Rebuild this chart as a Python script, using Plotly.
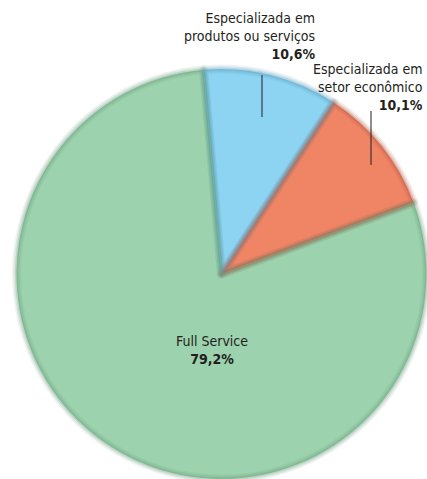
import plotly.graph_objects as go

# Share of agencies by type of specialisation (%)
categories = ["Especializada em produtos ou serviços",
              "Especializada em setor econômico",
              "Full Service"]
label_lines = [["Especializada em", "produtos ou serviços"],
               ["Especializada em", "setor econômico"],
               ["Full Service"]]
shares = [10.6, 10.1, 79.2]

slice_colors = ["#8cd4f2", "#f08566", "#9cd2ad"]
edge_rgb = [(80, 150, 180), (175, 80, 60), (95, 150, 115)]

FONT = "DejaVu Sans Condensed, Liberation Sans Narrow, Roboto, sans-serif"

W, H = 427, 479
M = dict(l=16, r=0, t=69, b=0)


def pct(v):
    return f"{v:.1f}".replace(".", ",") + "%"


def px_to_paper(x, y):
    pw = W - M["l"] - M["r"]
    ph = H - M["t"] - M["b"]
    return (x - M["l"]) / pw, 1 - (y - M["t"]) / ph


def rgba(c, a):
    return f"rgba({c[0]},{c[1]},{c[2]},{a})"


pie_common = dict(
    labels=categories,
    values=shares,
    sort=False,
    direction="clockwise",
    rotation=-5,
    textinfo="none",
    showlegend=False,
    domain=dict(x=[0, 1], y=[0, 1]),
)

fig = go.Figure()
# base slices
fig.add_trace(go.Pie(
    marker=dict(colors=slice_colors, line=dict(width=0)),
    hoverinfo="label+percent",
    **pie_common,
))
# soft bevel along slice edges: stacked translucent outlines
for width, alpha in [(9, 0.10), (6, 0.14), (3, 0.22)]:
    fig.add_trace(go.Pie(
        marker=dict(colors=["rgba(0,0,0,0)"] * len(shares),
                    line=dict(color=[rgba(c, alpha) for c in edge_rgb], width=width)),
        hoverinfo="skip",
        **pie_common,
    ))

# Callout labels: text box top edge (px) and leader line ends (px)
callouts = [
    dict(x=317, y=8, anchor="right", line=((262, 75), (262, 117))),
    dict(x=425, y=59, anchor="right", line=((371, 111), (371, 165))),
    dict(x=212, y=331, anchor="center", line=None),
]

for lines, v, c in zip(label_lines, shares, callouts):
    txt = "<br>".join(lines) + f"<br><b>{pct(v)}</b>"
    ax, ay = px_to_paper(c["x"], c["y"])
    fig.add_annotation(
        x=ax, y=ay, xref="paper", yref="paper",
        xanchor=c["anchor"], yanchor="top", align=c["anchor"],
        text=txt, showarrow=False,
        font=dict(family=FONT, size=14, color="#231f20"),
    )
    if c["line"]:
        (x0, y0), (x1, y1) = c["line"]
        p0 = px_to_paper(x0, y0)
        p1 = px_to_paper(x1, y1)
        fig.add_shape(type="line", xref="paper", yref="paper",
                      x0=p0[0], y0=p0[1], x1=p1[0], y1=p1[1],
                      line=dict(color="#231f20", width=1))

fig.update_layout(
    width=W, height=H,
    margin=M,
    paper_bgcolor="white",
    plot_bgcolor="white",
)

fig.write_html("out.html")
